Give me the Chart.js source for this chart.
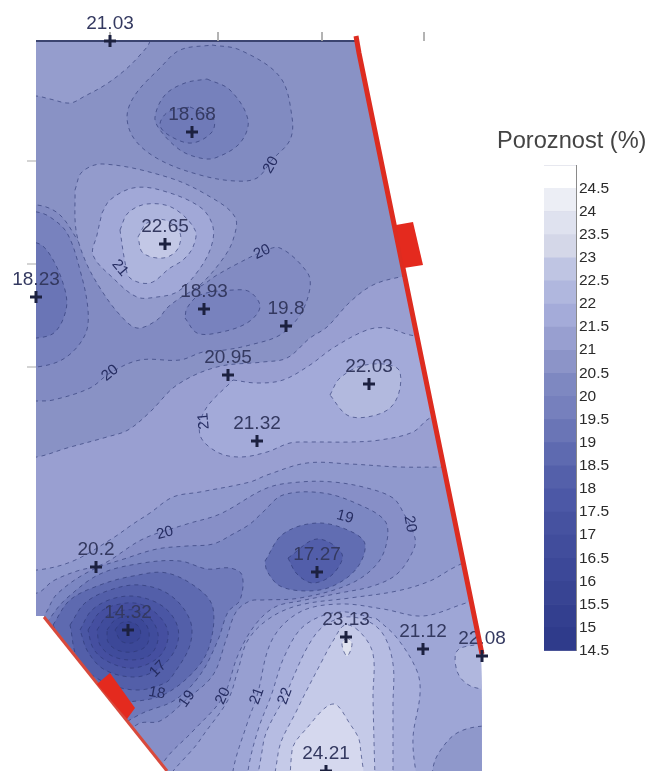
<!DOCTYPE html>
<html>
<head>
<meta charset="utf-8">
<style>
  html, body { margin: 0; background: #fff; }
  #wrap { position: relative; width: 653px; height: 771px; overflow: hidden; }
  canvas { position: absolute; filter: blur(0.45px); }
  #map { left: 0; top: 0; }
  #bar { left: 544px; top: 153px; }
  #title { position: absolute; left: 497px; top: 127px; font: 23.6px "Liberation Sans", Arial, sans-serif; color: #444; white-space: nowrap; }
</style>
</head>
<body>
<div id="wrap">
  <canvas id="map" width="653" height="771"></canvas>
  <div id="title">Poroznost (%)</div>
  <canvas id="bar" width="80" height="510"></canvas>
</div>
<script src="https://cdn.jsdelivr.net/npm/chart.js@4"></script>
<script>
// measured points, map units
const sampleX = [110, 192, 165, 36, 204, 286, 228, 369, 257, 96, 317, 128, 346, 423, 482, 326];
const sampleY = [41, 132, 244, 297, 309, 326, 375, 384, 441, 567, 572, 630, 637, 649, 656, 771];
const sampleValue = ['21.03', '18.68', '22.65', '18.23', '18.93', '19.8', '20.95', '22.03', '21.32', '20.2', '17.27', '14.32', '23.13', '21.12', '22.08', '24.21'];

// legend
const legendLevels = [14.5, 15, 15.5, 16, 16.5, 17, 17.5, 18, 18.5, 19, 19.5, 20, 20.5, 21, 21.5, 22, 22.5, 23, 23.5, 24, 24.5, 25];
const legendColors = ['#2f3b8b', '#333f8f', '#384493', '#3c4898', '#414d9c', '#4652a0', '#4c58a6', '#5460aa', '#5e6ab0', '#6a75b6', '#7680bd', '#7e88c1', '#8c94c8', '#989fd0', '#a4abd9', '#b0b7de', '#bfc5e3', '#d4d7e8', '#dfe2ef', '#eceef5', '#ffffff'];

const mapOutline = [[36, 41], [356, 41], [481, 655], [482, 771], [167, 771], [44, 616], [36, 616]];

// contour lines, outermost first
const cornerHigh = [[-30, 95], [36, 96], [50, 99], [70, 103], [85, 96], [105, 85], [125, 70], [140, 55], [150, 41], [165, -30], [-30, -30]];
const north20 = [[212, 45], [240, 50], [280, 77], [292, 117], [290, 140], [272, 160], [257, 178], [235, 181], [200, 175], [160, 160], [135, 140], [127, 117], [135, 95], [160, 68], [180, 50]];
const north195 = [[207, 79], [230, 90], [248, 120], [240, 143], [215, 158], [200, 158], [180, 150], [160, 130], [155, 117], [165, 95], [185, 83]];
const north19 = [[190, 107], [213, 118], [212, 132], [192, 143], [170, 136], [160, 125], [168, 112]];
const band20 = [[-30, 403], [37, 401], [53, 400], [90, 388], [110, 373], [140, 360], [180, 360], [203, 352], [225, 350], [250, 345], [280, 335], [300, 315], [310, 288], [307, 272], [280, 248], [262, 252], [235, 265], [217, 275], [195, 288], [130, 290], [85, 250], [60, 215], [37, 205], [-30, 205]];
const west20 = [[-20, 205], [37, 212], [50, 217], [67, 233], [80, 270], [88, 310], [85, 335], [65, 358], [37, 367], [-20, 370]];
const west195 = [[-20, 240], [37, 243], [52, 258], [65, 290], [66, 310], [55, 332], [37, 338], [-20, 340]];
const mid195 = [[185, 318], [197, 333], [217, 333], [247, 323], [260, 307], [250, 292], [233, 290], [200, 295], [187, 308]];
const peak205 = [[75, 190], [82, 172], [103, 164], [167, 177], [207, 195], [235, 217], [233, 240], [222, 260], [200, 285], [180, 298], [167, 308], [157, 320], [137, 328], [120, 315], [100, 288], [85, 260], [76, 230]];
const peak21 = [[102, 213], [110, 200], [133, 188], [160, 190], [200, 207], [213, 227], [210, 250], [195, 275], [177, 292], [157, 297], [137, 297], [113, 278], [93, 255], [97, 235]];
const peak215 = [[120, 230], [128, 213], [147, 204], [173, 208], [195, 230], [193, 247], [183, 260], [170, 268], [150, 283], [130, 278], [125, 262]];
const peak22 = [[138, 237], [147, 223], [165, 220], [180, 233], [177, 250], [163, 258], [143, 253]];
const south205 = [[-30, 465], [37, 457], [67, 448], [107, 437], [128, 430], [150, 412], [177, 385], [217, 367], [263, 362], [287, 358], [310, 338], [327, 327], [350, 302], [373, 285], [400, 277], [440, 270], [600, 270], [600, 900], [-50, 900]];
const loop21 = [[233, 380], [257, 383], [283, 380], [310, 365], [333, 348], [367, 330], [387, 328], [410, 335], [470, 345], [480, 400], [430, 418], [413, 432], [380, 440], [350, 442], [310, 442], [290, 443], [267, 452], [240, 457], [217, 452], [200, 435], [205, 410]];
const loop22 = [[330, 395], [340, 378], [365, 365], [397, 368], [400, 388], [390, 408], [367, 417], [347, 415]];
const lower205 = [[-30, 572], [37, 570], [73, 561], [113, 538], [133, 524], [150, 513], [173, 497], [200, 492], [250, 482], [267, 475], [307, 463], [350, 464], [400, 467], [445, 467], [600, 467], [600, 900], [-50, 900]];
const lowerEast = [[600, 500], [490, 550], [453, 568], [430, 581], [397, 591], [350, 598], [300, 605], [270, 618], [248, 640], [238, 670], [228, 700], [200, 740], [170, 790], [600, 900]];
const high21 = [[600, 590], [490, 595], [463, 604], [423, 616], [383, 609], [340, 604], [300, 612], [272, 640], [257, 696], [247, 724], [233, 771], [225, 850], [600, 900]];
const high215 = [[377, 619], [397, 638], [417, 671], [420, 694], [413, 738], [413, 850], [240, 850], [248, 771], [258, 730], [271, 696], [285, 655], [305, 625], [340, 612]];
const high22 = [[393, 850], [393, 704], [393, 664], [383, 634], [365, 620], [340, 618], [315, 635], [285, 696], [263, 745], [263, 850]];
const high225 = [[377, 850], [373, 698], [373, 654], [360, 632], [345, 625], [333, 641], [322, 661], [297, 710], [278, 754], [278, 850]];
const high23 = [[292, 850], [292, 751], [307, 728], [333, 704], [350, 724], [360, 744], [362, 850]];
const small23 = [[347, 637], [352, 644], [347, 656], [342, 644]];
const edge22 = [[530, 640], [475, 645], [457, 651], [457, 671], [467, 684], [483, 689], [530, 690]];
const edgeLow = [[530, 726], [483, 726], [457, 733], [440, 751], [433, 768], [425, 850], [530, 850]];
const low20 = [[-30, 600], [37, 593], [53, 581], [77, 571], [103, 564], [143, 539], [187, 524], [220, 514], [267, 488], [300, 482], [333, 482], [367, 488], [393, 498], [403, 512], [415, 538], [413, 551], [397, 574], [373, 586], [340, 593], [300, 601], [275, 607], [255, 625], [238, 655], [223, 697], [193, 731], [165, 760], [130, 820], [-30, 820]];
const low19 = [[30, 640], [47, 611], [57, 594], [90, 571], [127, 558], [157, 549], [187, 546], [213, 544], [233, 534], [250, 524], [263, 512], [283, 495], [323, 493], [360, 505], [385, 521], [387, 541], [377, 564], [350, 584], [300, 598], [263, 600], [250, 601], [236, 612], [226, 640], [213, 675], [187, 699], [160, 721], [138, 724], [60, 780]];
const low185 = [[30, 650], [53, 614], [67, 598], [100, 574], [143, 563], [180, 561], [207, 569], [230, 568], [242, 575], [240, 600], [228, 612], [218, 640], [200, 675], [175, 700], [145, 712], [60, 750]];
const dip185 = [[265, 561], [283, 534], [317, 523], [350, 531], [365, 544], [357, 568], [333, 586], [307, 591], [280, 586], [267, 571]];
const dip18 = [[288, 558], [317, 539], [342, 554], [333, 574], [313, 583], [297, 574]];
const low18 = [[53, 625], [70, 600], [100, 585], [133, 576], [167, 573], [200, 590], [213, 608], [210, 644], [197, 668], [167, 693], [137, 701], [90, 700]];
const low175 = [[70, 625], [85, 603], [110, 590], [140, 585], [170, 595], [190, 620], [190, 645], [175, 672], [165, 683], [135, 690], [100, 680], [78, 660]];
const low17 = [[80, 630], [92, 610], [115, 598], [140, 597], [165, 608], [178, 628], [175, 650], [158, 669], [135, 677], [105, 670], [88, 652]];
const low165 = [[88, 630], [100, 612], [120, 604], [140, 604], [158, 615], [168, 632], [163, 652], [148, 664], [128, 668], [105, 660], [93, 648]];
const low16 = [[97, 630], [107, 616], [125, 610], [142, 612], [155, 625], [158, 640], [150, 655], [132, 660], [112, 656], [100, 645]];
const low155 = [[107, 630], [115, 620], [128, 616], [142, 620], [149, 632], [146, 646], [132, 652], [117, 650], [108, 642]];
const low15 = [[115, 630], [121, 623], [130, 622], [139, 627], [140, 637], [132, 643], [121, 641]];

// contour labels
const contourText = ['20', '20', '21', '20', '21', '20', '19', '20', '17', '18', '19', '20', '21', '22'];
const contourX = [271, 262, 120, 110, 204, 165, 345, 410, 158, 157, 187, 223, 257, 285];
const contourY = [165, 252, 268, 373, 421, 533, 517, 524, 669, 693, 699, 696, 696, 696];
const contourAngle = [-60, -25, 50, -40, -95, -15, 15, 80, -45, 10, -55, -65, -70, -70];

// marks around the map
const tickX = [110, 218, 322, 424];
const tickY = [161, 264, 367];
const eastWall = [[356, 36], [359, 53], [482, 654]];
const southWall = [[44, 617], [167, 771]];
const eastBlock = [[396, 225], [413, 222], [423, 265], [404, 268]];
const southBlock = [[97, 684], [110, 673], [135, 708], [127, 719]];

const layers = [
  [mapOutline, '#8992c5', 0],
  [cornerHigh, '#959dcd'],
  [north20, '#818bc1'], [north195, '#7681bc'], [north19, '#6f7ab8'],
  [band20, '#828bc2'], [west20, '#7882be'], [west195, '#6a75b6'], [mid195, '#7882be'],
  [peak205, '#939bcc'], [peak21, '#a1a8d7'], [peak215, '#aeb5dd'], [peak22, '#c3c8e6'],
  [south205, '#999fd1'], [loop21, '#a3aad9'], [loop22, '#b2b9de'],
  [lower205, '#9099cd'], [lowerEast, '#979fd1'],
  [high21, '#9ea6d6'], [high215, '#a9b0dc'], [high22, '#b6bce2'], [high225, '#c5cae8'], [high23, '#d5d8ee'], [small23, '#dfe2ef'],
  [edge22, '#b0b7de'], [edgeLow, '#8f98cb'],
  [low20, '#878fc7'], [low19, '#7c87c2'], [low185, '#6f7aba'], [dip185, '#616db2'], [dip18, '#525eaa'],
  [low18, '#5e6ab0'], [low175, '#535fa9'], [low17, '#4a56a4'], [low165, '#454fa0'], [low16, '#404c9c'], [low155, '#3c4898'], [low15, '#384494']
];

const toPoints = list => list.map(p => ({ x: p[0], y: p[1] }));

const datasets = layers.map(l => ({
  data: toPoints(l[0].concat([l[0][0]])),
  showLine: true,
  pointRadius: 0,
  tension: l[2] === 0 ? 0 : 0.35,
  borderColor: 'rgba(45,55,115,0.7)',
  borderWidth: l[2] === 0 ? 0 : 0.9,
  borderDash: [4, 4],
  bandFill: l[1]
}));

// text on the contours and next to the samples
datasets.push({
  data: contourX.map((x, i) => ({ x: x, y: contourY[i] })),
  pointRadius: 0,
  textList: contourText,
  textAngle: contourAngle,
  textFont: '15px "Liberation Sans", Arial, sans-serif',
  textColor: '#262d62'
});
datasets.push({
  data: sampleX.map((x, i) => ({ x: x, y: sampleY[i] })),
  pointRadius: 0,
  textList: sampleValue,
  textShift: -17,
  textFont: '19px "Liberation Sans", Arial, sans-serif',
  textColor: '#343960'
});

// outline and small ticks
datasets.push({ data: toPoints([[36, 41], [356, 41]]), showLine: true, pointRadius: 0, borderColor: '#3b4470', borderWidth: 2 });
tickX.forEach(x => datasets.push({ data: toPoints([[x, 32], [x, 41]]), showLine: true, pointRadius: 0, borderColor: '#a9a9a9', borderWidth: 1 }));
tickY.forEach(y => datasets.push({ data: toPoints([[27, y], [36, y]]), showLine: true, pointRadius: 0, borderColor: '#a9a9a9', borderWidth: 1 }));
datasets.push({ data: toPoints(eastWall), showLine: true, pointRadius: 0, borderColor: '#dd2c20', borderWidth: 5 });
datasets.push({ data: toPoints(southWall), showLine: true, pointRadius: 0, borderColor: '#d8493c', borderWidth: 3 });
datasets.push({ data: toPoints(eastBlock.concat([eastBlock[0]])), showLine: true, pointRadius: 0, borderWidth: 0, bandFill: '#e42a1e', noClip: true });
datasets.push({ data: toPoints(southBlock.concat([southBlock[0]])), showLine: true, pointRadius: 0, borderWidth: 0, bandFill: '#e42a1e', noClip: true });

// crosses last, they sit on top of the wall
datasets.push({
  data: sampleX.map((x, i) => ({ x: x, y: sampleY[i] })),
  pointStyle: 'cross',
  pointRadius: 6,
  pointBorderWidth: 3,
  pointBorderColor: '#1c2140'
});

datasets.forEach((d, i) => { d.order = datasets.length - i; });

function outlinePath(chart) {
  const ctx = chart.ctx, sx = chart.scales.x, sy = chart.scales.y;
  ctx.beginPath();
  mapOutline.forEach((p, i) => {
    const px = sx.getPixelForValue(p[0]), py = sy.getPixelForValue(p[1]);
    if (i === 0) ctx.moveTo(px, py); else ctx.lineTo(px, py);
  });
  ctx.closePath();
}

const mapLayers = {
  id: 'mapLayers',
  beforeDatasetDraw(chart, args) {
    const ds = chart.data.datasets[args.index];
    if (!ds.bandFill) return;
    const ctx = chart.ctx, line = args.meta.dataset;
    ctx.save();
    if (!ds.noClip) {
      outlinePath(chart);
      ctx.clip();
    }
    line.updateControlPoints(chart.chartArea);
    ctx.beginPath();
    line.path(ctx);
    ctx.closePath();
    ctx.fillStyle = ds.bandFill;
    ctx.fill();
  },
  afterDatasetDraw(chart, args) {
    const ds = chart.data.datasets[args.index];
    const ctx = chart.ctx;
    if (ds.bandFill) ctx.restore();
    if (!ds.textList) return;
    args.meta.data.forEach((pt, i) => {
      ctx.save();
      ctx.translate(pt.x, pt.y + (ds.textShift || 0));
      if (ds.textAngle) ctx.rotate(ds.textAngle[i] * Math.PI / 180);
      ctx.font = ds.textFont;
      ctx.fillStyle = ds.textColor;
      ctx.textAlign = 'center';
      ctx.textBaseline = 'middle';
      ctx.fillText(ds.textList[i], 0, 0);
      ctx.restore();
    });
  }
};

new Chart(document.getElementById('map'), {
  type: 'scatter',
  data: { datasets: datasets },
  options: {
    responsive: false,
    animation: false,
    events: [],
    layout: { padding: 0, autoPadding: false },
    plugins: { legend: { display: false }, tooltip: { enabled: false } },
    scales: {
      x: { type: 'linear', display: false, min: 0, max: 653 },
      y: { type: 'linear', display: false, min: 0, max: 771, reverse: true }
    }
  },
  plugins: [mapLayers]
});

// colour bar
new Chart(document.getElementById('bar'), {
  type: 'bar',
  data: {
    labels: [''],
    datasets: legendColors.map((c, i) => ({
      data: [[legendLevels[i], legendLevels[i + 1]]],
      backgroundColor: c,
      borderWidth: 0,
      grouped: false,
      barPercentage: 1,
      categoryPercentage: 1
    }))
  },
  options: {
    responsive: false,
    animation: false,
    events: [],
    layout: { padding: { top: 10.5, bottom: 0 }, autoPadding: false },
    plugins: { legend: { display: false }, tooltip: { enabled: false } },
    scales: {
      x: { display: false },
      y: {
        position: 'right',
        min: 14.5,
        max: 25,
        afterFit: s => { s.width = 48; },
        afterBuildTicks: s => { s.ticks = legendLevels.map(v => ({ value: v })); },
        border: { color: '#8a8a8a' },
        grid: { drawOnChartArea: true, color: 'rgba(50,60,120,0.45)', drawTicks: false },
        ticks: {
          padding: 3,
          autoSkip: false,
          color: '#2b2b2b',
          font: { family: '"Liberation Sans", Arial, sans-serif', size: 15.5 },
          callback: v => (v === legendLevels[legendLevels.length - 1] ? '' : String(v))
        }
      }
    }
  }
});
</script>
</body>
</html>
